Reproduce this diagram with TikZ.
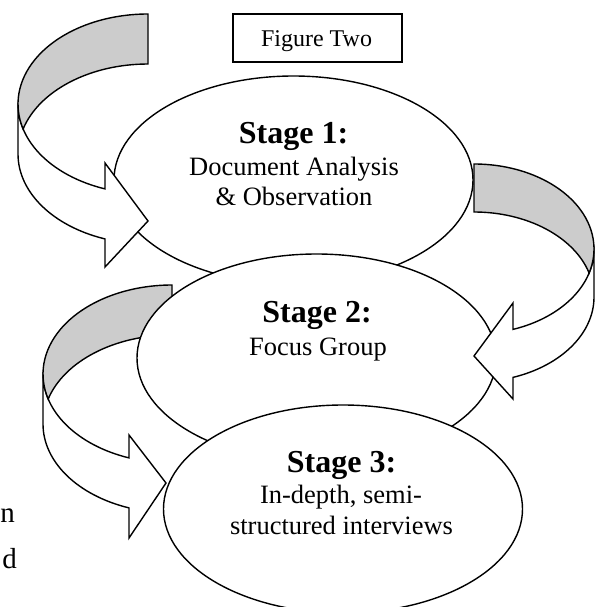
\documentclass[tikz,border=0pt]{standalone}
\usepackage{fontspec}
\setmainfont{Liberation Serif}
\usetikzlibrary{shapes.geometric}
\definecolor{bandgray}{RGB}{204,204,204}
\begin{document}
\begin{tikzpicture}[x=1pt,y=-1pt,
  stage/.style={ellipse, draw, fill=white, line width=1.4pt, minimum width=359pt, minimum height=208pt, inner sep=0pt},
  backband/.style={draw, fill=bandgray, line width=1.4pt, line join=miter},
  frontband/.style={draw, fill=white, line width=1.4pt, line join=miter},
  titletext/.style={font=\fontsize{32}{36}\selectfont\bfseries, anchor=base, inner sep=0pt},
  bodytext/.style={font=\fontsize{26.5}{30}\selectfont, anchor=base, inner sep=0pt},
  figbox/.style={draw, line width=1.4pt, minimum width=169pt, minimum height=48pt, inner sep=0pt},
  figtext/.style={font=\fontsize{24}{28}\selectfont, anchor=base, inner sep=0pt},
  pagetext/.style={font=\fontsize{29}{33}\selectfont, anchor=base east, inner sep=0pt},
]
\useasboundingbox (0,0) rectangle (601,607);
\fill[white] (0,0) rectangle (601,607);

% arrow 3 (bottom left)
\path[frontband] (43,374) -- (43,424) arc[start angle=180, end angle=109.47, x radius=129, y radius=89]
  -- (129,538) -- (166,483) -- (129,435) -- (129,457.9)
  arc[start angle=109.47, end angle=180, x radius=129, y radius=89] -- cycle;
\path[backband] (172,285) arc[start angle=-90, end angle=-196.31, x radius=129, y radius=89]
  arc[start angle=-163.69, end angle=-90, x radius=129, y radius=89] -- cycle;

% stage 1 ellipse
\node[stage] (s1) at (293.5,180) {};

% arrow 1 (top left)
\path[frontband] (18,104) -- (18,154) arc[start angle=180, end angle=109.32, x radius=130, y radius=90]
  -- (105,267) -- (148,221) -- (105,163) -- (105,188.9)
  arc[start angle=109.32, end angle=180, x radius=130, y radius=90] -- cycle;
\path[backband] (148,14) arc[start angle=-90, end angle=-196.13, x radius=130, y radius=90]
  arc[start angle=-163.87, end angle=-90, x radius=130, y radius=90] -- cycle;

% stage 2 ellipse
\node[stage] (s2) at (316.5,358) {};

% arrow 2 (right)
\path[frontband] (594,249) -- (594,297) arc[start angle=0, end angle=71.03, x radius=120, y radius=85]
  -- (513,399) -- (474,356) -- (513,303) -- (513,329.4)
  arc[start angle=71.03, end angle=0, x radius=120, y radius=85] -- cycle;
\path[backband] (474,164) arc[start angle=-90, end angle=16.40, x radius=120, y radius=85]
  arc[start angle=-16.40, end angle=-90, x radius=120, y radius=85] -- cycle;

% stage 3 ellipse
\node[stage] (s3) at (343,509) {};

% texts
\node[titletext] (t1a) at (293.5,143) {Stage 1:};
\node[bodytext] (t1b) at (294,175) {Document Analysis};
\node[bodytext] (t1c) at (294,205) {\& Observation};
\node[titletext] (t2a) at (317,322) {Stage 2:};
\node[bodytext] (t2b) at (318,355) {Focus Group};
\node[titletext] (t3a) at (341.5,472) {Stage 3:};
\node[bodytext] (t3b) at (341,503) {In-depth, semi-};
\node[bodytext] (t3c) at (341.5,534) {structured interviews};

\node[figbox] (fig) at (317.5,38) {};
\node[figtext] (figt) at (316.5,47) {Figure Two};

\node[pagetext] (pn) at (15,522) {n};
\node[pagetext] (pd) at (17,568) {d};
\end{tikzpicture}
\end{document}
